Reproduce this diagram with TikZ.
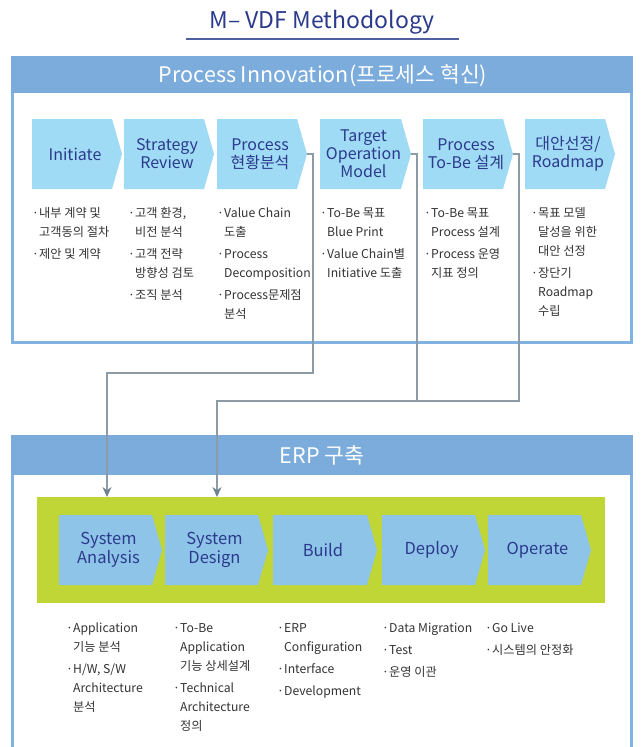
\documentclass[tikz,border=0pt]{standalone}
\usepackage{fontspec}
\setmainfont{Noto Sans CJK KR}
\usetikzlibrary{arrows.meta}
\definecolor{hdr}{HTML}{7BACDC}
\definecolor{bord}{HTML}{80B2E2}
\definecolor{chevA}{HTML}{A0DBF5}
\definecolor{chevB}{HTML}{8FC4E9}
\definecolor{limeg}{HTML}{BFD636}
\definecolor{navy}{HTML}{2B3A8C}
\definecolor{txt}{HTML}{333333}
\definecolor{connc}{HTML}{8D9BA6}
\definecolor{arrowc}{HTML}{6F828F}
\definecolor{uline}{HTML}{4F5FA0}
\newcommand\bl{\makebox[7pt][l]{·}}
\newcommand\ind{\hspace*{7pt}}
\newcommand\fs{\rule{0pt}{13pt}}
\newcommand\mkchev[7]{%
  \fill[#6] (#2,#3) -- ({#2+#4},#3) -- ({#2+#4+10},{#3+#5/2}) -- ({#2+#4},{#3+#5}) -- (#2,{#3+#5}) -- cycle;
  \node[chevtext] (#1) at ({#2+#4/2+3},{#3+#5/2}) {#7};
  \coordinate (#1-tip) at ({#2+#4+10},{#3+#5/2});
}
\tikzset{
  chevtext/.style={align=center, text=navy, inner sep=0pt, font=\fontsize{16}{18}\selectfont},
  chevtextB/.style={align=center, text=navy, inner sep=0pt, font=\fontsize{16.5}{19}\selectfont},
  col/.style={align=left, anchor=north west, inner sep=0pt, text=txt, font=\fontsize{12.2}{19}\selectfont},
  connline/.style={draw=connc, line width=1.3pt},
  arr/.style={-{Stealth[length=10pt,width=9pt,color=arrowc]}},
  band/.style={fill=hdr},
  bandtext/.style={text=white, font=\fontsize{21.5}{24}\selectfont, anchor=base, inner sep=0pt},
}
\begin{document}
\begin{tikzpicture}[x=1pt,y=-1pt]
\useasboundingbox (0,0) rectangle (640,747);
\fill[white] (0,0) rectangle (640,747);
% title
\node[text=navy, font=\fontsize{23}{26}\selectfont, anchor=base, inner sep=0pt] (title) at (322,28) {M– VDF Methodology};
\draw[uline, line width=1.5pt] (186,39) -- (459,39);
% top panel
\draw[bord, line width=3pt] (12.5,80) rectangle (631.5,342);
\fill[band] (11,56) rectangle (633,93);
\node[bandtext] (hdrA) at (323,82) {Process Innovation(프로세스 혁신)};
% bottom panel
\draw[bord, line width=3pt] (12.5,470) -- (12.5,760);
\draw[bord, line width=3pt] (631.5,470) -- (631.5,760);
\fill[band] (11,435) rectangle (633,475);
\node[bandtext] (hdrB) at (322,463) {ERP 구축};
% top chevrons
\mkchev{ini}{32}{119}{80}{70}{chevA}{Initiate}
\mkchev{str}{124}{119}{80}{70}{chevA}{Strategy\\Review}
\mkchev{pro}{217}{119}{80}{70}{chevA}{Process\\현황분석}
\mkchev{tom}{320}{119}{81}{70}{chevA}{Target\\Operation\\Model}
\mkchev{tbe}{423}{119}{80}{70}{chevA}{Process\\To-Be 설계}
\mkchev{alt}{525}{119}{80}{70}{chevA}{대안선정/\\Roadmap}
% top columns
\node[col] (c1) at (32,204.5) {\fs\bl 내부 계약 및\\\ind 고객동의 절차\\[3pt]\bl 제안 및 계약};
\node[col] (c2) at (128,204.5) {\fs\bl 고객 환경,\\\ind 비전 분석\\[3pt]\bl 고객 전략\\\ind 방향성 검토\\[3pt]\bl 조직 분석};
\node[col] (c3) at (217,204.5) {\fs\bl Value Chain\\\ind 도출\\[3pt]\bl Process\\\ind Decomposition\\[3pt]\bl Process문제점\\\ind 분석};
\node[col] (c4) at (320,204.5) {\fs\bl To-Be 목표\\\ind Blue Print\\[3pt]\bl Value Chain별\\\ind Initiative 도출};
\node[col] (c5) at (424,204.5) {\fs\bl To-Be 목표\\\ind Process 설계\\[3pt]\bl Process 운영\\\ind 지표 정의};
\node[col] (c6) at (531,204.5) {\fs\bl 목표 모델\\\ind 달성을 위한\\\ind 대안 선정\\[3pt]\bl 장단기\\\ind Roadmap\\\ind 수립};
% green area
\node[fill=limeg, minimum width=568pt, minimum height=106pt, inner sep=0pt, anchor=north west] (green) at (37,497) {};
% bottom chevrons
\mkchev{sa}{59}{515}{93}{70}{chevB}{}
\mkchev{sd}{165}{515}{93}{70}{chevB}{}
\mkchev{bu}{273}{515}{94}{70}{chevB}{}
\mkchev{de}{382}{515}{93}{70}{chevB}{}
\mkchev{op}{488}{515}{93}{70}{chevB}{}
\node[chevtextB] (saT) at (sa) {System\\Analysis};
\node[chevtextB] (sdT) at (sd) {System\\Design};
\node[chevtextB] (buT) at (bu) {Build};
\node[chevtextB] (deT) at (de) {Deploy};
\node[chevtextB] (opT) at (op) {Operate};
% bottom columns
\node[col] (b1) at (66,619.5) {\fs\bl Application\\\ind 기능 분석\\[3pt]\bl H/W, S/W\\\ind Architecture\\\ind 분석};
\node[col] (b2) at (173,619.5) {\fs\bl To-Be\\\ind Application\\\ind 기능 상세설계\\[3pt]\bl Technical\\\ind Architecture\\\ind 정의};
\node[col] (b3) at (277,619.5) {\fs\bl ERP\\\ind Configuration\\[3pt]\bl Interface\\[3pt]\bl Development};
\node[col] (b4) at (382,619.5) {\fs\bl Data Migration\\[3pt]\bl Test\\[3pt]\bl 운영 이관};
\node[col] (b5) at (485,619.5) {\fs\bl Go Live\\[3pt]\bl 시스템의 안정화};
% connectors
\draw[connline, arr] (pro-tip) -| (313,373) -- (107,373) -- (107,0 |- green.north);
\draw[connline] (tom-tip) -| (417,401);
\draw[connline, arr] (tbe-tip) -| (519,401) -- (217,401) -- (217,0 |- green.north);
\end{tikzpicture}
\end{document}
